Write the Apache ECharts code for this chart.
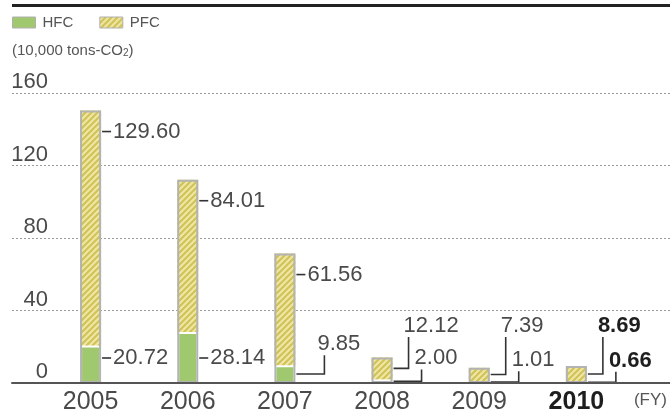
<!DOCTYPE html>
<html>
<head>
<meta charset="utf-8">
<script src="https://cdn.jsdelivr.net/npm/echarts@6/dist/echarts.min.js"></script>
<style>
  html, body { margin: 0; padding: 0; background: #fff; }
  #chart { width: 670px; height: 417px; }
</style>
</head>
<body>
<div id="chart"></div>
<script>
// Fluorocarbon emissions by fiscal year (10,000 tons-CO2)
const years = ['2005', '2006', '2007', '2008', '2009', '2010'];
const hfc = [20.72, 28.14, 9.85, 2.00, 1.01, 0.66];
const pfc = [129.60, 84.01, 61.56, 12.12, 7.39, 8.69];
const yTicks = [0, 40, 80, 120, 160];
const highlightYear = '2010';

const FONT = "'Liberation Sans Narrow', 'Arial Narrow', 'Liberation Sans', Arial, sans-serif";
const TEXT = '#4a4a4a';
const STRONG = '#1e1e1e';
const LEADER = '#333';
const BAR_W = 21;

// diagonal hatch used for the PFC segments
function hatchPattern() {
  const s = 6;
  const c = document.createElement('canvas');
  c.width = c.height = s;
  const g = c.getContext('2d');
  g.fillStyle = '#efe7a6';
  g.fillRect(0, 0, s, s);
  g.strokeStyle = '#d1c357';
  g.lineWidth = 2.2;
  g.beginPath();
  g.moveTo(-1, 1); g.lineTo(1, -1);
  g.moveTo(0, s); g.lineTo(s, 0);
  g.moveTo(s - 1, s + 1); g.lineTo(s + 1, s - 1);
  g.stroke();
  return c;
}

const totals = years.map((_, i) => hfc[i] + pfc[i]);
const strong = years.map(y => y === highlightYear);

// Value labels with leaders: tall segments get a short dash to the right,
// short ones an elbow line running out to a label placed above.
function renderValueLabels(params, api) {
  const i = api.value(0);
  const vals = [api.value(1), api.value(2)];
  const base = api.coord([i, 0]);
  const axisY = base[1];
  const right = base[0] + BAR_W / 2 + 1;
  const bold = strong[i];
  const children = [];
  let stackTop = 0;
  vals.forEach((v, k) => {
    const isPfc = k === 1;
    const y0 = api.coord([i, stackTop])[1];
    stackTop += v;
    const y1 = api.coord([i, stackTop])[1];
    const h = y0 - y1;
    let pts, tx, ty;
    if (h >= 30) {
      ty = isPfc ? y1 + 21 : axisY - 25;
      tx = right + 11;
      pts = [[right, ty], [right + 9, ty]];
    } else {
      const mid = (y0 + y1) / 2;
      const lx = right + (isPfc ? 15 : 28);
      const end = isPfc ? axisY - 46 : y1 - 10;
      tx = right + (isPfc ? 10 : 21);
      ty = end - 11;
      pts = [[right, mid], [lx, mid], [lx, end]];
    }
    children.push({
      type: 'polyline', silent: true,
      shape: { points: pts },
      style: { stroke: LEADER, lineWidth: 1.6, fill: null }
    });
    children.push({
      type: 'text', silent: true,
      style: {
        text: v.toFixed(2), x: tx, y: ty, align: 'left', verticalAlign: 'middle',
        fontFamily: FONT, fontSize: 22, fontWeight: bold ? 'bold' : 'normal',
        fill: bold ? STRONG : TEXT
      }
    });
  });
  return { type: 'group', children: children };
}

const chart = echarts.init(document.getElementById('chart'), null, { renderer: 'canvas' });

const option = {
  backgroundColor: '#fff',
  animation: false,
  textStyle: { fontFamily: FONT },
  graphic: [
    { type: 'rect', shape: { x: 12, y: 4, width: 658, height: 3 }, style: { fill: '#222' }, silent: true }
  ],
  legend: {
    data: ['HFC', 'PFC'],
    left: 12,
    top: 15,
    padding: 0,
    icon: 'rect',
    itemWidth: 23,
    itemHeight: 11,
    itemGap: 26,
    itemStyle: { borderColor: '#b0b0b0', borderWidth: 1 },
    textStyle: { fontFamily: FONT, fontSize: 15, color: '#555', padding: [0, 0, 0, 2] }
  },
  grid: [
    { left: 42, right: 41, top: 93, bottom: 34 },
    { left: 12, right: 0, top: 93, bottom: 34 }
  ],
  xAxis: [
    {
      type: 'category',
      gridIndex: 0,
      data: years.map((y, i) => strong[i]
        ? { value: y, textStyle: { fontWeight: 'bold', color: STRONG } }
        : y),
      axisLine: { show: false },
      axisTick: { show: false },
      axisLabel: { fontFamily: FONT, fontSize: 25, color: TEXT, margin: 7 },
      name: '(FY)',
      nameLocation: 'end',
      nameGap: 9,
      nameTextStyle: { fontFamily: FONT, fontSize: 17, color: '#555', align: 'left', verticalAlign: 'top', padding: [9, 0, 0, 0] }
    },
    {
      type: 'value',
      gridIndex: 1,
      min: 0, max: 1,
      z: 5,
      axisLine: { show: true, lineStyle: { color: '#555', width: 2 } },
      axisTick: { show: false },
      axisLabel: { show: false },
      splitLine: { show: false }
    }
  ],
  yAxis: [
    { type: 'value', gridIndex: 0, min: 0, max: 160, show: false },
    {
      type: 'value',
      gridIndex: 1,
      min: yTicks[0],
      max: yTicks[yTicks.length - 1],
      interval: yTicks[1] - yTicks[0],
      axisLine: { show: false },
      axisTick: { show: false },
      axisLabel: {
        inside: true, align: 'right', margin: 36, verticalAlign: 'bottom',
        fontFamily: FONT, fontSize: 22, color: TEXT
      },
      splitLine: { show: true, lineStyle: { color: '#9a9a9a', width: 1, type: [2, 2] } },
      name: '{a|(10,000 tons-CO}{s|2}{a|)}',
      nameLocation: 'end',
      nameGap: 42,
      nameTextStyle: {
        align: 'left', verticalAlign: 'middle',
        rich: {
          a: { fontFamily: FONT, fontSize: 15, color: '#555' },
          s: { fontFamily: FONT, fontSize: 10, color: '#555', verticalAlign: 'bottom' }
        }
      }
    }
  ],
  series: [
    {
      name: 'HFC',
      type: 'bar',
      stack: 'total',
      xAxisIndex: 0, yAxisIndex: 0,
      barWidth: BAR_W,
      data: hfc,
      itemStyle: { color: '#a0c86f', borderColor: '#fff', borderWidth: 2 }
    },
    {
      name: 'PFC',
      type: 'bar',
      stack: 'total',
      xAxisIndex: 0, yAxisIndex: 0,
      barWidth: BAR_W,
      data: pfc,
      itemStyle: { color: { image: hatchPattern(), repeat: 'repeat' } }
    },
    {
      name: 'outline',
      type: 'bar',
      xAxisIndex: 0, yAxisIndex: 0,
      barWidth: BAR_W,
      barGap: '-100%',
      z: 3,
      silent: true,
      data: totals,
      itemStyle: { color: 'rgba(0,0,0,0)', borderColor: '#b3b3b3', borderWidth: 2 }
    },
    {
      name: 'values',
      type: 'custom',
      xAxisIndex: 0, yAxisIndex: 0,
      z: 4,
      silent: true,
      data: years.map((_, i) => [i, hfc[i], pfc[i]]),
      renderItem: renderValueLabels
    }
  ]
};

chart.setOption(option);
</script>
</body>
</html>
